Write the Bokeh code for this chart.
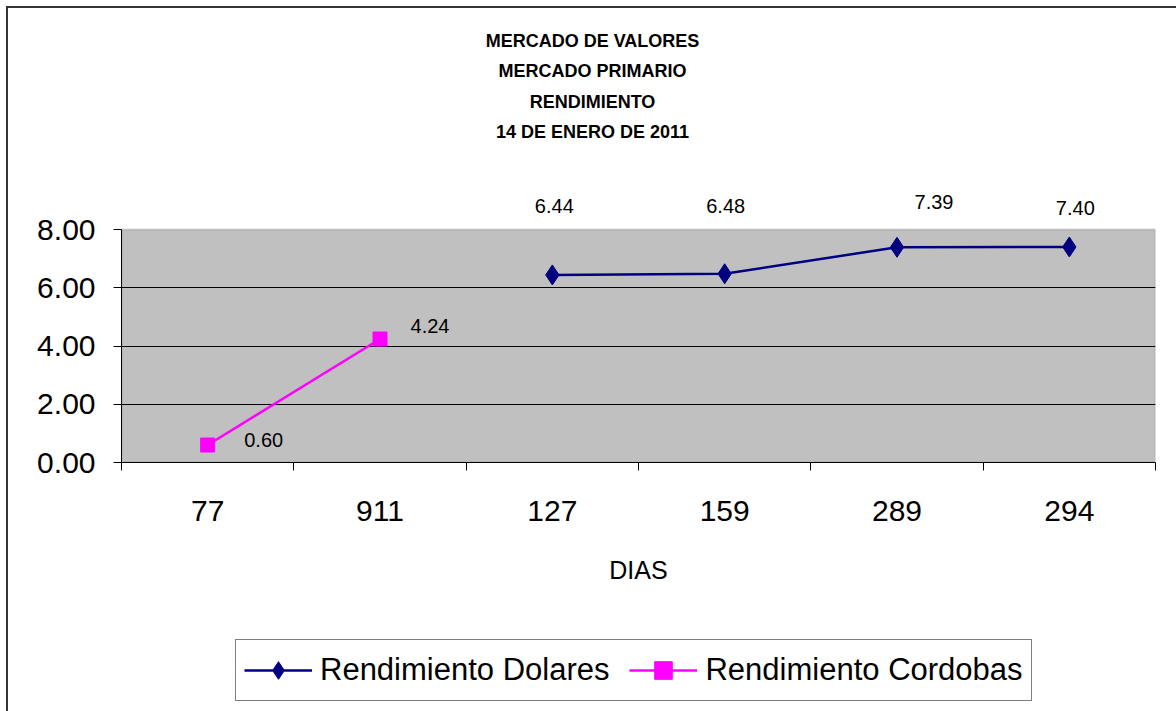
import math
from bokeh.plotting import figure
from bokeh.layouts import column
from bokeh.models import (Range1d, FixedTicker, NumeralTickFormatter, ColumnDataSource,
                          Legend, LegendItem, Label, BoxAnnotation)
from bokeh.core.properties import value
from bokeh.embed import file_html
from bokeh.resources import INLINE

# ---- data ----
categories = ["77", "911", "127", "159", "289", "294"]
dolares = [math.nan, math.nan, 6.44, 6.48, 7.39, 7.40]
cordobas = [0.60, 4.24, math.nan, math.nan, math.nan, math.nan]
y_ticks = [0, 2, 4, 6, 8]
title_lines = ["MERCADO DE VALORES", "MERCADO PRIMARIO", "RENDIMIENTO", "14 DE ENERO DE 2011"]
x_title = "DIAS"
series_names = ["Rendimiento Dolares", "Rendimiento Cordobas"]

# ---- style / layout ----
FONT = "Liberation Sans"
NAVY = "#000080"
MAGENTA = "#FF00FF"
dol_label_dx = [2, 1, 37, 6]
dol_label_dy = [-69, -68, -45, -39]
cor_label_dx = [56, 50]
cor_label_dy = [-5, -13]

W = 1168
H_TOP, H_LEG = 603, 100
TOP, BOTTOM, LEFT, RIGHT = 10, 149, 113, 21
AREA_H = 233  # pixel height of the grey plot area (0 .. 8)
frame_h = H_TOP - TOP - BOTTOM
y_top = y_ticks[-1] * frame_h / AREA_H

centers = [i + 0.5 for i in range(len(categories))]
bounds = [float(i) for i in range(len(categories) + 1)]


def points(vals):
    xs, ys = [], []
    for x, v in zip(centers, vals):
        if not math.isnan(v):
            xs.append(x)
            ys.append(v)
    return xs, ys


p = figure(width=W, height=H_TOP, output_backend="svg", toolbar_location=None,
           x_range=Range1d(0, len(categories)), y_range=Range1d(y_ticks[0], y_top),
           min_border_left=LEFT, min_border_top=TOP, min_border_right=RIGHT, min_border_bottom=BOTTOM)
p.background_fill_color = "white"
p.border_fill_color = "white"
p.outline_line_color = None

area = BoxAnnotation(bottom=y_ticks[0], top=y_ticks[-1], fill_color="#C0C0C0", fill_alpha=1,
                     line_color="#808080", line_width=2, level="image")
p.add_layout(area)

# x axis
xa = p.xaxis[0]
xa.ticker = FixedTicker(ticks=centers, minor_ticks=bounds)
xa.major_label_overrides = {c: lab for c, lab in zip(centers, categories)}
xa.major_tick_line_color = None
xa.major_tick_out = 8
xa.major_tick_in = 0
xa.minor_tick_line_color = "black"
xa.minor_tick_out = 8
xa.minor_tick_in = 0
xa.axis_line_color = "black"
xa.major_label_text_font = FONT
xa.major_label_text_font_size = "30px"
xa.major_label_text_color = "black"
xa.major_label_standoff = 30
xa.axis_label = x_title
xa.axis_label_text_font = FONT
xa.axis_label_text_font_size = "25px"
xa.axis_label_text_font_style = "normal"
xa.axis_label_text_color = "black"
xa.axis_label_standoff = 32

# y axis
ya = p.yaxis[0]
ya.ticker = FixedTicker(ticks=y_ticks, minor_ticks=[])
ya.bounds = (y_ticks[0], y_ticks[-1])
ya.formatter = NumeralTickFormatter(format="0.00")
ya.major_tick_line_color = "black"
ya.major_tick_out = 8
ya.major_tick_in = 0
ya.axis_line_color = "black"
ya.major_label_text_font = FONT
ya.major_label_text_font_size = "30px"
ya.major_label_text_color = "black"
ya.major_label_standoff = 18

p.xgrid.visible = False
p.ygrid.ticker = FixedTicker(ticks=y_ticks[1:-1])
p.ygrid.grid_line_color = "black"
p.ygrid.grid_line_width = 1

# series
dx, dy = points(dolares)
cx, cy = points(cordobas)
src_d = ColumnDataSource(dict(x=dx, y=dy, t=["%.2f" % v for v in dy], ox=dol_label_dx, oy=dol_label_dy))
src_c = ColumnDataSource(dict(x=cx, y=cy, t=["%.2f" % v for v in cy], ox=cor_label_dx, oy=cor_label_dy))

line_d = dict(line_color=NAVY, line_width=2.5)
mark_d = dict(marker="diamond", size=20, fill_color=NAVY, line_color=NAVY)
line_c = dict(line_color=MAGENTA, line_width=2.5)
mark_c = dict(marker="square", size=14, fill_color=MAGENTA, line_color=MAGENTA)

p.line("x", "y", source=src_d, **line_d)
p.scatter("x", "y", source=src_d, **mark_d)
p.line("x", "y", source=src_c, **line_c)
p.scatter("x", "y", source=src_c, **mark_c)

p.text("x", "y", text="t", source=src_d, x_offset="ox", y_offset="oy",
       text_font=value(FONT), text_font_size="20px", text_color="black",
       text_align="center", text_baseline="middle")
p.text("x", "y", text="t", source=src_c, x_offset="ox", y_offset="oy",
       text_font=value(FONT), text_font_size="20px", text_color="black",
       text_align="center", text_baseline="middle")

# title (screen px measured up from the frame bottom)
title_y = [422, 392, 361, 331]
for line, yy in zip(title_lines, title_y):
    p.add_layout(Label(x=471, y=yy, x_units="screen", y_units="screen", text=line,
                       text_font=FONT, text_font_size="18px", text_font_style="bold",
                       text_color="black", text_align="center", text_baseline="middle"))

# legend strip below the chart (its renderers share the series sources but lie
# outside this strip's ranges, so only the legend is visible)
q = figure(width=W, height=H_LEG, output_backend="svg", toolbar_location=None,
           x_axis_type=None, y_axis_type=None, min_border=0,
           x_range=Range1d(100, 101), y_range=Range1d(100, 101))
q.outline_line_color = None
q.grid.visible = False
q.background_fill_color = "white"
q.border_fill_color = "white"
r1 = q.line("x", "y", source=src_d, **line_d)
r2 = q.scatter("x", "y", source=src_d, **mark_d)
r3 = q.line("x", "y", source=src_c, **line_c)
r4 = q.scatter("x", "y", source=src_c, **mark_c)

legend = Legend(items=[LegendItem(label=series_names[0], renderers=[r1, r2]),
                       LegendItem(label=series_names[1], renderers=[r3, r4])],
                orientation="horizontal", location=(114, 10))
legend.label_text_font = FONT
legend.label_text_font_size = "31px"
legend.label_text_color = "black"
legend.border_line_color = "black"
legend.border_line_width = 1
legend.background_fill_color = "white"
legend.padding = 8
legend.spacing = 20
legend.label_standoff = 8
legend.glyph_width = 68
legend.glyph_height = 44
legend.margin = 0
q.add_layout(legend, "center")

layout = column(p, q, spacing=0)
layout.styles = {"margin-left": "6px", "margin-top": "6px",
                 "border-left": "2px solid #333333", "border-top": "2px solid #333333"}

open("out.html", "w").write(file_html(layout, INLINE))
